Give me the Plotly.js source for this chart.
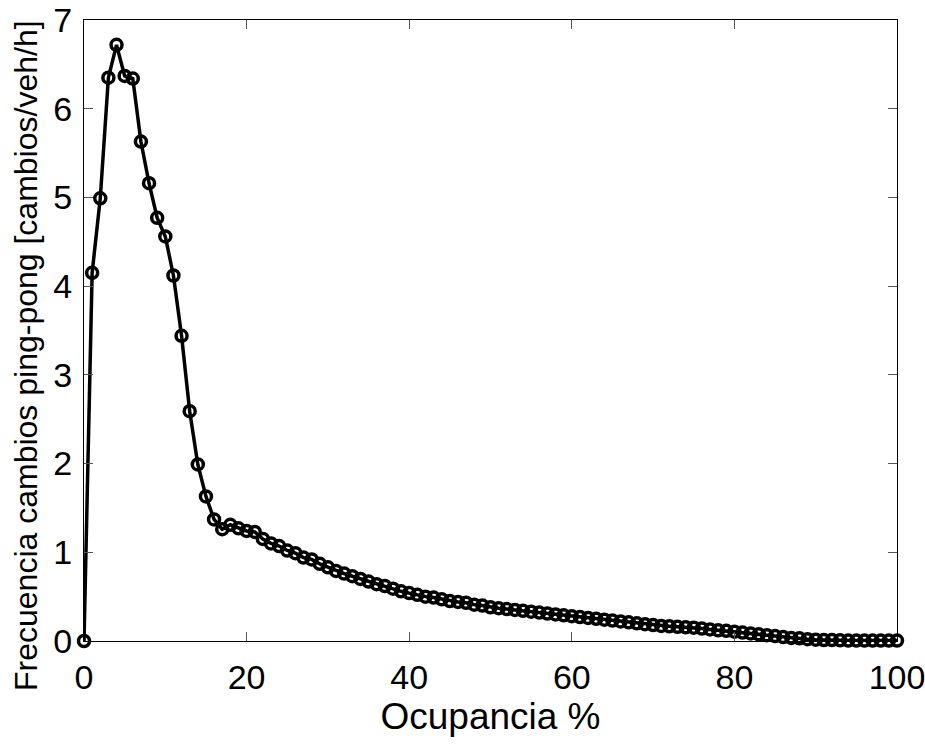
<!DOCTYPE html>
<html>
<head>
<meta charset="utf-8">
<script src="https://cdn.plot.ly/plotly-3.0.1.min.js"></script>
<style>
  html, body { margin: 0; padding: 0; background: #fff; }
  #chart { width: 925px; height: 745px; }
</style>
</head>
<body>
<div id="chart"></div>
<script>
// Occupancy (%) and ping-pong handover frequency (changes/veh/h)
const ocupancia = [
  0, 1, 2, 3, 4, 5, 6, 7, 8, 9,
  10, 11, 12, 13, 14, 15, 16, 17, 18, 19,
  20, 21, 22, 23, 24, 25, 26, 27, 28, 29,
  30, 31, 32, 33, 34, 35, 36, 37, 38, 39,
  40, 41, 42, 43, 44, 45, 46, 47, 48, 49,
  50, 51, 52, 53, 54, 55, 56, 57, 58, 59,
  60, 61, 62, 63, 64, 65, 66, 67, 68, 69,
  70, 71, 72, 73, 74, 75, 76, 77, 78, 79,
  80, 81, 82, 83, 84, 85, 86, 87, 88, 89,
  90, 91, 92, 93, 94, 95, 96, 97, 98, 99,
  100
];

const frecuencia = [
  0.00, 4.15, 4.99, 6.35, 6.72, 6.37, 6.34, 5.63, 5.16, 4.77,
  4.56, 4.12, 3.44, 2.59, 1.99, 1.63, 1.37, 1.26, 1.31, 1.27,
  1.24, 1.23, 1.15, 1.10, 1.07, 1.02, 0.99, 0.94, 0.92, 0.87,
  0.83, 0.79, 0.76, 0.73, 0.70, 0.67, 0.64, 0.62, 0.59, 0.56,
  0.54, 0.52, 0.50, 0.49, 0.47, 0.45, 0.44, 0.43, 0.41, 0.40,
  0.38, 0.37, 0.36, 0.35, 0.34, 0.33, 0.32, 0.31, 0.30, 0.29,
  0.28, 0.27, 0.26, 0.25, 0.24, 0.23, 0.22, 0.21, 0.20, 0.19,
  0.18, 0.17, 0.165, 0.16, 0.155, 0.15, 0.14, 0.13, 0.12, 0.115,
  0.105, 0.095, 0.085, 0.075, 0.065, 0.055, 0.045, 0.035, 0.03, 0.02,
  0.015, 0.01, 0.01, 0.008, 0.005, 0.005, 0.005, 0.005, 0.005, 0.005,
  0.005
];

const xTicks = [0, 20, 40, 60, 80, 100];
const yTicks = [0, 1, 2, 3, 4, 5, 6, 7];

const xTitle = 'Ocupancia %';
const yTitle = 'Frecuencia cambios ping-pong [cambios/veh/h]';

const FONT = 'Liberation Sans, Arial, Helvetica, sans-serif';

const trace = {
  x: ocupancia,
  y: frecuencia,
  type: 'scatter',
  mode: 'lines+markers',
  line: { color: '#000', width: 3.5 },
  marker: {
    symbol: 'circle-open',
    size: 11,
    color: '#000',
    line: { color: '#000', width: 3.5 }
  },
  cliponaxis: false,
  hoverinfo: 'skip'
};

const axisCommon = {
  showgrid: false,
  zeroline: false,
  showline: true,
  linecolor: '#000',
  linewidth: 1,
  mirror: 'ticks',
  ticks: 'inside',
  ticklen: 9,
  tickwidth: 1,
  tickcolor: '#555',
  ticklabeloverflow: 'allow',
  tickfont: { family: FONT, size: 34, color: '#000' },
  fixedrange: true
};

const layout = {
  width: 925,
  height: 745,
  margin: { l: 84, r: 28, t: 20, b: 104 },
  paper_bgcolor: '#fff',
  plot_bgcolor: '#fff',
  showlegend: false,
  font: { family: FONT, color: '#000' },
  xaxis: Object.assign({}, axisCommon, {
    range: [0, 100],
    tickvals: xTicks,
    ticktext: xTicks.map(String),
    ticklabelstandoff: 6,
    title: { text: xTitle, font: { family: FONT, size: 37, color: '#000' }, standoff: 2 }
  }),
  yaxis: Object.assign({}, axisCommon, {
    range: [0, 7],
    tickvals: yTicks,
    ticktext: yTicks.map(String),
    ticklabelstandoff: 4
  }),
  // vertical axis label, placed as a rotated annotation
  annotations: [{
    text: yTitle,
    xref: 'paper', yref: 'paper',
    x: -0.0713, y: 0.459,
    xanchor: 'center', yanchor: 'middle',
    textangle: -90,
    showarrow: false,
    font: { family: FONT, size: 32, color: '#000' }
  }]
};

Plotly.newPlot('chart', [trace], layout, { displayModeBar: false, staticPlot: true });
</script>
</body>
</html>
